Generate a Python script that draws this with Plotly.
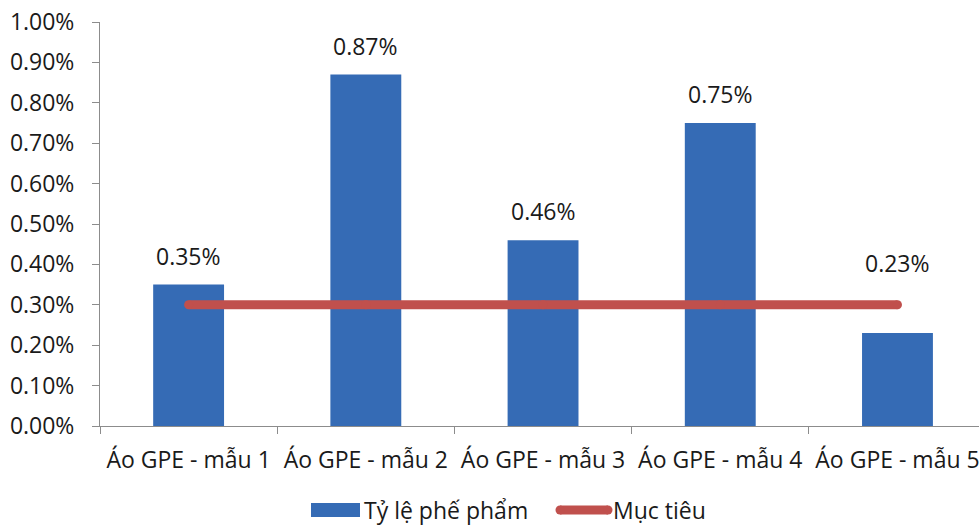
import plotly.graph_objects as go

categories = ["Áo GPE - mẫu 1", "Áo GPE - mẫu 2", "Áo GPE - mẫu 3", "Áo GPE - mẫu 4", "Áo GPE - mẫu 5"]
defect_rate = [0.0035, 0.0087, 0.0046, 0.0075, 0.0023]
target = [0.003, 0.003, 0.003, 0.003, 0.003]
y_ticks = [0, 0.001, 0.002, 0.003, 0.004, 0.005, 0.006, 0.007, 0.008, 0.009, 0.010]
series_names = ["Tỷ lệ phế phẩm", "Mục tiêu"]

# label offsets (px) above bar tops
label_shift = [11, 11, 11, 11, 52]

FONT = "Open Sans"
FS = 23
BAR_COLOR = "#356BB5"
LINE_COLOR = "#C0504D"
TXT = "#1a1a1a"

fig = go.Figure()
fig.add_trace(go.Bar(x=categories, y=defect_rate, name=series_names[0],
                     marker=dict(color=BAR_COLOR, line=dict(width=0)),
                     showlegend=False))
fig.add_trace(go.Scatter(x=categories, y=target, name=series_names[1], mode="lines+markers",
                         line=dict(color=LINE_COLOR, width=9),
                         marker=dict(color=LINE_COLOR, size=9),
                         showlegend=False))

for c, v, s in zip(categories, defect_rate, label_shift):
    fig.add_annotation(x=c, y=v, text=f"{v*100:.2f}%", showarrow=False,
                       yanchor="bottom", yshift=s,
                       font=dict(family=FONT, size=FS, color=TXT))

# custom legend
LY = 510
fig.add_shape(type="rect", xref="paper", yref="paper",
              x0=(311-100)/879, x1=(360-100)/879, y0=-(LY-7-426)/404, y1=-(LY+7-426)/404,
              fillcolor=BAR_COLOR, line=dict(width=0))
fig.add_annotation(xref="paper", yref="paper", x=(362-100)/879, y=-(LY-426)/404,
                   xanchor="left", yanchor="middle", showarrow=False, text=series_names[0],
                   font=dict(family=FONT, size=FS, color=TXT))
fig.add_shape(type="line", xref="paper", yref="paper",
              x0=(560-100)/879, x1=(608-100)/879, y0=-(LY-426)/404, y1=-(LY-426)/404,
              line=dict(color=LINE_COLOR, width=9))
for xx in (560, 608):
    fig.add_shape(type="circle", xref="paper", yref="paper",
                  x0=(xx-4.5-100)/879, x1=(xx+4.5-100)/879,
                  y0=-(LY-4.5-426)/404, y1=-(LY+4.5-426)/404,
                  fillcolor=LINE_COLOR, line=dict(width=0))
fig.add_annotation(xref="paper", yref="paper", x=(611-100)/879, y=-(LY-426)/404,
                   xanchor="left", yanchor="middle", showarrow=False, text=series_names[1],
                   font=dict(family=FONT, size=FS, color=TXT))

fig.update_layout(
    width=979, height=525,
    margin=dict(l=100, r=0, t=22, b=99),
    paper_bgcolor="white", plot_bgcolor="white",
    bargap=0.6,
    font=dict(family=FONT, size=FS, color=TXT),
    xaxis=dict(range=[-0.5, 4.46], showline=True, linecolor="#8c8c8c", linewidth=1,
               ticks="outside", tickson="boundaries", ticklen=7, tickcolor="#8c8c8c",
               ticklabelstandoff=13, showgrid=False,
               tickfont=dict(family=FONT, size=FS, color=TXT)),
    yaxis=dict(range=[0, 0.010], tickvals=y_ticks, tickformat=".2%",
               showline=True, linecolor="#8c8c8c", linewidth=1,
               ticks="outside", ticklen=7, tickcolor="#8c8c8c", showgrid=False,
               zeroline=False, ticklabelstandoff=13,
               tickfont=dict(family=FONT, size=FS, color=TXT)),
)

fig.write_html("out.html")
